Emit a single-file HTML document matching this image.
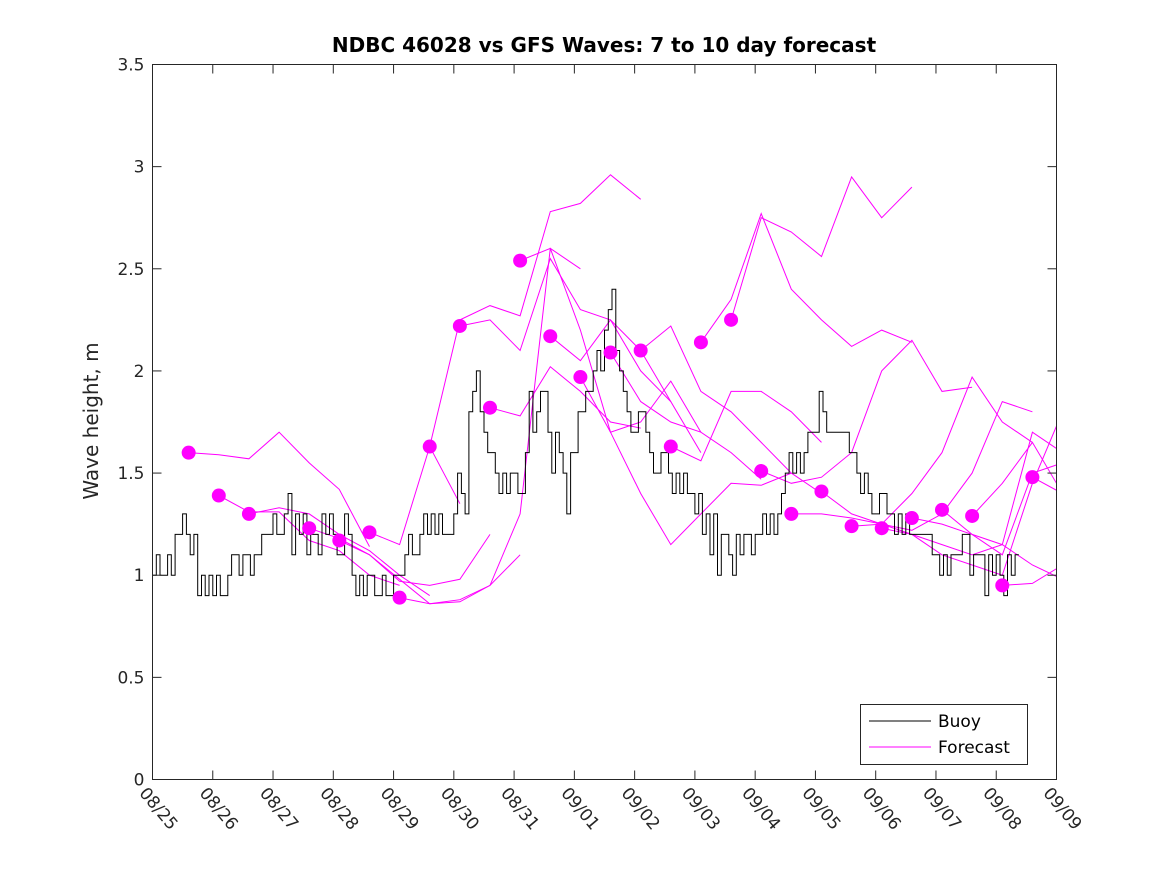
<!DOCTYPE html>
<html><head><meta charset="utf-8"><style>
body{margin:0;background:#fff}
svg{display:block;font-family:"DejaVu Sans","Liberation Sans",sans-serif}
</style></head><body>
<svg id="chart" width="1167" height="875" viewBox="0 0 1167 875">
<defs><clipPath id="plotclip"><rect x="152.5" y="64.5" width="904" height="715"/></clipPath></defs>
<rect width="1167" height="875" fill="#fff"/>
<text x="604" y="52" text-anchor="middle" font-size="20" font-weight="bold" fill="#000">NDBC 46028 vs GFS Waves: 7 to 10 day forecast</text>
<text transform="translate(98,421) rotate(-90)" text-anchor="middle" font-size="20" fill="#262626">Wave height, m</text>
<g id="series" clip-path="url(#plotclip)"></g>
<rect x="152.5" y="64.5" width="904" height="715" fill="none" stroke="#262626" stroke-width="1"/>
<g id="axes"></g>
<g>
<rect x="860.5" y="704.5" width="167" height="60" fill="#fff" stroke="#262626"/>
<line x1="869" y1="721" x2="931" y2="721" stroke="#000"/>
<text x="938" y="727" font-size="17" fill="#000">Buoy</text>
<line x1="869" y1="747" x2="931" y2="747" stroke="#f0f"/>
<text x="938" y="753" font-size="17" fill="#000">Forecast</text>
</g>
</svg>
<script>
const xTickLabels=["08/25","08/26","08/27","08/28","08/29","08/30","08/31","09/01","09/02","09/03","09/04","09/05","09/06","09/07","09/08","09/09"];
const yTicks=[0,0.5,1,1.5,2,2.5,3,3.5];
const buoyStep=0.0625;
const buoyValues=[1.0,1.1,1.0,1.0,1.1,1.0,1.2,1.2,1.3,1.2,1.1,1.2,0.9,1.0,0.9,1.0,
0.9,1.0,0.9,0.9,1.0,1.1,1.1,1.0,1.1,1.1,1.0,1.1,1.1,1.2,1.2,1.2,
1.3,1.2,1.2,1.3,1.4,1.1,1.3,1.2,1.3,1.1,1.2,1.2,1.1,1.3,1.2,1.3,
1.2,1.1,1.1,1.3,1.2,1.0,0.9,1.0,0.9,1.0,1.0,0.9,0.9,1.0,0.9,0.9,
1.0,1.0,1.0,1.1,1.2,1.1,1.1,1.2,1.3,1.2,1.3,1.2,1.3,1.2,1.2,1.2,
1.3,1.5,1.4,1.3,1.8,1.9,2.0,1.8,1.7,1.6,1.6,1.5,1.4,1.5,1.4,1.5,
1.5,1.4,1.4,1.6,1.9,1.7,1.8,1.9,1.9,1.7,1.5,1.7,1.6,1.5,1.3,1.6,
1.6,1.8,1.8,1.9,1.9,2.0,2.1,2.0,2.2,2.3,2.4,2.1,2.0,1.9,1.8,1.7,
1.7,1.8,1.8,1.7,1.6,1.5,1.5,1.6,1.6,1.5,1.4,1.5,1.4,1.5,1.4,1.4,
1.3,1.4,1.2,1.3,1.1,1.3,1.0,1.2,1.2,1.1,1.0,1.2,1.1,1.2,1.2,1.1,
1.2,1.2,1.3,1.2,1.3,1.2,1.3,1.4,1.5,1.6,1.5,1.6,1.5,1.6,1.7,1.7,
1.7,1.9,1.8,1.7,1.7,1.7,1.7,1.7,1.7,1.6,1.6,1.5,1.4,1.5,1.4,1.3,
1.3,1.4,1.4,1.3,1.3,1.2,1.3,1.2,1.3,1.2,1.2,1.2,1.2,1.2,1.2,1.1,
1.1,1.0,1.1,1.0,1.1,1.1,1.1,1.2,1.2,1.0,1.1,1.1,1.1,0.9,1.1,1.0,
1.1,1.0,0.9,1.1,1.0,1.1];
const forecastStarts=[0.6,1.1,1.6,2.6,3.1,3.6,4.1,4.6,5.1,5.6,6.1,6.6,7.1,7.6,8.1,8.6,9.1,9.6,10.1,10.6,11.1,11.6,12.1,12.6,13.1,13.6,14.1,14.6];
const forecastStep=0.5;
const forecastValues=[
[1.60,1.59,1.57,1.70,1.55,1.42,1.14],
[1.39,1.31,1.31,1.17,1.12,1.00,0.95],
[1.30,1.33,1.30,1.20,1.12,1.00,0.90],
[1.23,1.18,1.10,0.97,0.95,0.98,1.20],
[1.17,1.10,0.98,0.86,0.87,0.95,1.10],
[1.21,1.15,1.63,1.35],
[0.89,0.86,0.88,0.95,1.30,2.60,2.50],
[1.63,2.25,2.32,2.27,2.78,2.82,2.96,2.84],
[2.22,2.25,2.10,2.55,2.30,2.25,2.10,1.85],
[1.82,1.78,2.02,1.90,1.75,1.72],
[2.54,2.60,2.20,1.70,1.75,1.95,1.70],
[2.17,2.05,2.25,2.00,1.85,1.60],
[1.97,1.70,1.40,1.15,1.30,1.45,1.44,1.50],
[2.09,1.85,1.75,1.70,1.60,1.47],
[2.10,2.22,1.90,1.80,1.65,1.50,1.40],
[1.63,1.56,1.90,1.90,1.80,1.65],
[2.14,2.35,2.77,2.40,2.25,2.12,2.20,2.14],
[2.25,2.75,2.68,2.56,2.95,2.75,2.90],
[1.51,1.45,1.48,1.60,2.00,2.15,1.90,1.92],
[1.30,1.30,1.28,1.25,1.40,1.60,1.97,1.75,1.65],
[1.41,1.30,1.25,1.22,1.30,1.50,1.85,1.80],
[1.24,1.25,1.20,1.15,1.10,1.15,1.70,1.60],
[1.23,1.20,1.10,1.05,1.00,1.45,1.80,2.20],
[1.28,1.25,1.20,1.10,1.50,1.55,1.90,2.25],
[1.32,1.20,1.15,1.05,0.98,1.05],
[1.29,1.45,1.65,1.40,1.65],
[0.95,0.96,1.05],
[1.48,1.40,1.60]];
const NS="http://www.w3.org/2000/svg";
const X0=152.5,X1=1056.5,Y0=779.5,Y1=64.5;
function xs(d){return X0+(d/15)*(X1-X0);}
function ys(v){return Y0-(v/3.5)*(Y0-Y1);}
function mk(tag,attrs,parent){const e=document.createElementNS(NS,tag);for(const k in attrs)e.setAttribute(k,attrs[k]);parent.appendChild(e);return e;}
const axes=document.getElementById('axes'),series=document.getElementById('series');
yTicks.forEach(v=>{
 const y=ys(v);
 let t=mk('line',{x1:X0,y1:y,x2:X0+9,y2:y,stroke:'#262626'},axes);
 
 
 let t2=mk('line',{x1:X1,y1:y,x2:X1-9,y2:y,stroke:'#262626'},axes);
 
 
 const lb=mk('text',{x:X0-8,y:y+6,'text-anchor':'end','font-size':'17',fill:'#262626'},axes);
 lb.textContent=String(v);
 
 
});
xTickLabels.forEach((s,i)=>{
 const x=xs(i);
 let t=mk('line',{x1:x,y1:Y0,x2:x,y2:Y0-9,stroke:'#262626'},axes);
 
 
 let t2=mk('line',{x1:x,y1:Y1,x2:x,y2:Y1+9,stroke:'#262626'},axes);
 
 
 const lb=mk('text',{transform:`translate(${x-14},${Y0+14}) rotate(50)`,'font-size':'17',fill:'#262626'},axes);
 lb.textContent=s;
 
 
});
forecastValues.forEach((vals,i)=>{
 const pts=vals.map((v,j)=>xs(forecastStarts[i]+j*forecastStep).toFixed(1)+','+ys(v).toFixed(1)).join(' ');
 const pl=mk('polyline',{points:pts,fill:'none',stroke:'#f0f','stroke-width':'1'},series);
 
 
});
let bp=[];
buoyValues.forEach((v,i)=>{const xa=xs(i*buoyStep),xb=xs((i+1)*buoyStep),y=ys(v);bp.push(xa.toFixed(1)+','+y.toFixed(1));bp.push(xb.toFixed(1)+','+y.toFixed(1));});
const bl=mk('polyline',{points:bp.join(' '),fill:'none',stroke:'#000','stroke-width':'1'},series);


forecastValues.forEach((vals,i)=>{
 const c=mk('circle',{cx:xs(forecastStarts[i]),cy:ys(vals[0]),r:7,fill:'#f0f'},series);
 
 
});
</script>
</body></html>
